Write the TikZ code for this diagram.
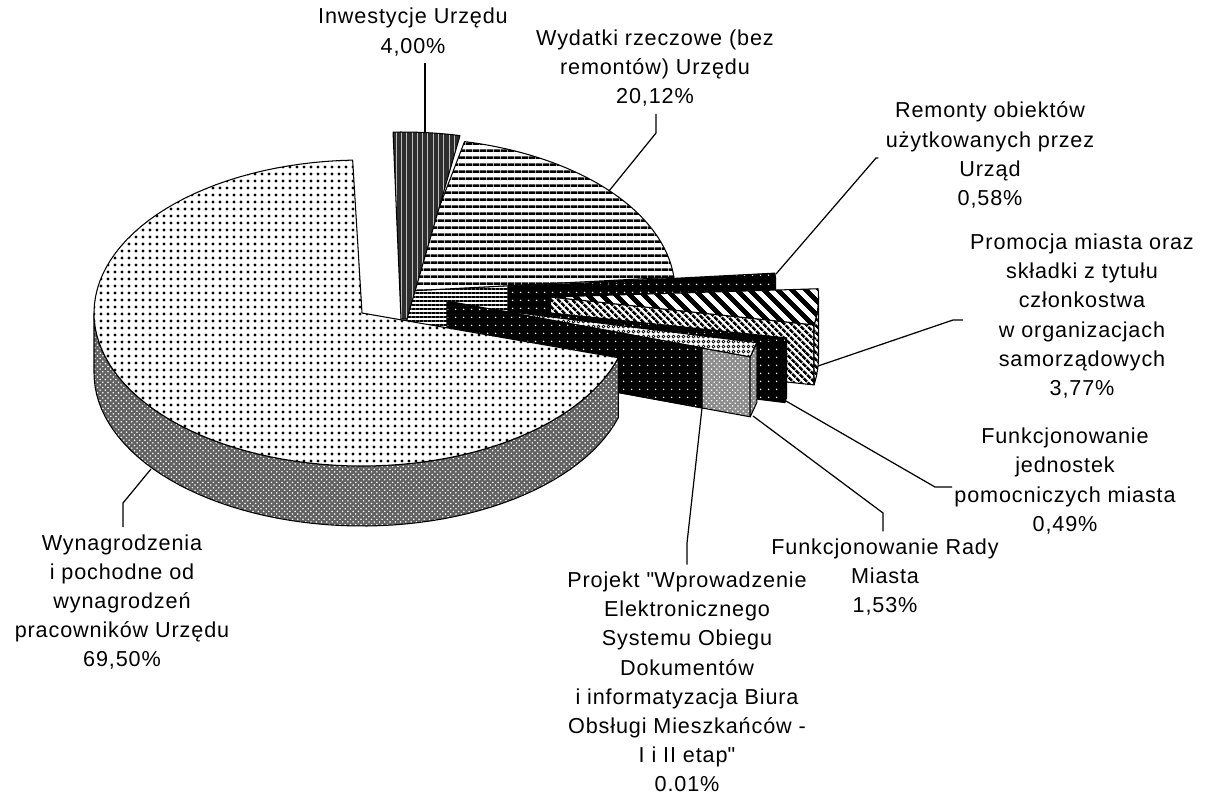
\documentclass[tikz,border=0pt]{standalone}
\usepackage{fontspec}
\setmainfont{Liberation Sans}[LetterSpace=4]
\usetikzlibrary{patterns,patterns.meta}

% Motifs
\tikzdeclarepattern{name=pointsNoirs, type=uncolored,
  bottom left={(0pt,0pt)}, top right={(3.7pt,3.7pt)}, tile size={(3.7pt,3.7pt)},
  code={\fill (1.85pt,1.85pt) circle (0.95pt);}}
\tikzdeclarepattern{name=pointsClairs, type=uncolored,
  bottom left={(0pt,0pt)}, top right={(4.6pt,4.6pt)}, tile size={(4.6pt,4.6pt)},
  code={\fill (2.3pt,2.3pt) circle (0.5pt);}}
\tikzdeclarepattern{name=lignesH, type=uncolored,
  bottom left={(0pt,0pt)}, top right={(4.1pt,4.1pt)}, tile size={(4.1pt,4.1pt)},
  code={\fill (0pt,0pt) rectangle (4.1pt,1.7pt);}}
\tikzdeclarepattern{name=lignesHfines, type=uncolored,
  bottom left={(0pt,0pt)}, top right={(2.4pt,2.4pt)}, tile size={(2.4pt,2.4pt)},
  code={\fill (0pt,0pt) rectangle (2.4pt,1.2pt);}}
\tikzdeclarepattern{name=hachGrosse, type=uncolored,
  bottom left={(0pt,0pt)}, top right={(5.6pt,5.6pt)}, tile size={(5.6pt,5.6pt)},
  tile transformation={rotate=-45},
  code={\fill (0pt,0pt) rectangle (5.6pt,2.8pt);}}
\tikzdeclarepattern{name=hachFine, type=uncolored,
  bottom left={(0pt,0pt)}, top right={(3pt,3pt)}, tile size={(3pt,3pt)},
  tile transformation={rotate=-45},
  code={\fill (0pt,0pt) rectangle (3pt,1.6pt);}}
\tikzdeclarepattern{name=anneaux, type=uncolored,
  bottom left={(0pt,0pt)}, top right={(2.8pt,2.8pt)}, tile size={(2.8pt,2.8pt)},
  code={\draw[line width=0.4pt] (1.4pt,1.4pt) circle (0.8pt);}}

\begin{document}
\begin{tikzpicture}[x=0.02cm, y=-0.02cm,
    contour/.style={draw=black, line width=0.6pt, line join=round},
    pointille/.style={contour, preaction={fill=white}, pattern=pointsNoirs},
    noirPoints/.style={contour, preaction={fill=black}, pattern=pointsClairs, pattern color=white},
    texGris/.style={contour, preaction={fill=black!62}, pattern=crosshatch dots, pattern color=white},
    gris/.style={contour, preaction={fill=black!45}, pattern=crosshatch dots, pattern color=white},
    inwest/.style={contour, preaction={fill=black!82}, pattern=vertical lines, pattern color=white!75!black},
    rayuresH/.style={contour, preaction={fill=white}, pattern=lignesH},
    rayuresHfines/.style={contour, preaction={fill=white}, pattern=lignesHfines},
    hachG/.style={contour, preaction={fill=white}, pattern=hachGrosse},
    hachF/.style={contour, preaction={fill=white}, pattern=hachFine},
    rond/.style={contour, preaction={fill=white}, pattern=anneaux},
    etiq/.style={align=center, inner sep=4pt, font=\fontsize{12.3}{16.6}\selectfont},
    lien/.style={line width=0.7pt}]
    \useasboundingbox (0,0) rectangle (1207,796);
    % Wydatki rzeczowe
    \draw[rayuresHfines] (407,291) -- (673.9,277.1) -- (673.9,337.1) -- (407,351) -- cycle;
    \draw[rayuresH] (407,291) -- plot[domain=77.6:5.2, samples=40] ({407+268*cos(\x)},{291-153*sin(\x)}) -- cycle;
    % Inwestycje
    \draw[inwest] plot[domain=92:77.6, samples=10] ({402.4+268*cos(\x)},{285-153*sin(\x)}) -- (407,319) -- (401,319) -- cycle;
    % Remonty
    \draw[noirPoints] (508,287) -- (775.6,278.7) -- (775.6,338.7) -- (508,347) -- cycle;
    \draw[noirPoints] (508,287) -- (774.9,273.1) -- (775.6,278.7) -- cycle;
    % Promocja
    \draw[hachF] (550.5,297) -- (814,324.9) -- (814,384.9) -- (550.5,357) -- cycle;
    \draw[hachF] plot[domain=0:-10.5, samples=8] ({550.5+268*cos(\x)},{297-153*sin(\x)})
        -- plot[domain=-10.5:0, samples=8] ({550.5+268*cos(\x)},{357-153*sin(\x)}) -- cycle;
    \draw[hachG] (550.5,297) -- plot[domain=3.1:-10.5, samples=10] ({550.5+268*cos(\x)},{297-153*sin(\x)}) -- cycle;
    % Jednostki pomocnicze
    \draw[noirPoints] (523,310) -- (784.8,342.6) -- (784.8,402.6) -- (523,370) -- cycle;
    \draw[noirPoints] (786.5,337.9) -- (784.8,342.6) -- (784.8,402.6) -- (786.5,397.9) -- cycle;
    \draw[noirPoints] (523,310) -- (786.5,337.9) -- (784.8,342.6) -- cycle;
    % Rada Miasta
    \draw[gris] (495,310) -- (750.2,356.8) -- (750.2,416.8) -- (495,370) -- cycle;
    \draw[gris] (756.8,342.6) -- (750.2,356.8) -- (750.2,416.8) -- (756.8,402.6) -- cycle;
    \draw[rond] (495,310) -- (756.8,342.6) -- (750.2,356.8) -- cycle;
    % Projekt
    \draw[noirPoints] (447,301) -- (702.2,347.8) -- (702.2,407.8) -- (447,361) -- cycle;
    % Wynagrodzenia
    \draw[texGris] plot[domain=180:343, samples=60] ({362+268*cos(\x)},{313-153*sin(\x)})
        -- plot[domain=343:180, samples=60] ({362+268*cos(\x)},{373-153*sin(\x)}) -- cycle;
    \draw[pointille] (362,313) -- plot[domain=92:343, samples=90] ({362+268*cos(\x)},{313-153*sin(\x)}) -- cycle;

    % Points d'attache
    \coordinate (cInv) at (425,133);
    \coordinate (cWyd) at (609,191);
    \coordinate (kWyd) at (656,133);
    \coordinate (cRem) at (776,274);
    \coordinate (kRem) at (876,158);
    \coordinate (cPro) at (818,366);
    \coordinate (kPro) at (953,320);
    \coordinate (cJed) at (786,401);
    \coordinate (kJed) at (935,487);
    \coordinate (kJed2) at (952,487);
    \coordinate (cRad) at (753,416);
    \coordinate (kRad) at (883,513);
    \coordinate (cPrj) at (702,408);
    \coordinate (kPrj) at (687,543);
    \coordinate (cWyn) at (151,469);
    \coordinate (kWyn) at (123,503);

    % Etiquettes
    \node[etiq] (inv) at (413,32) {Inwestycje Urzędu\\4,00\%};
    \node[etiq] (wyd) at (655,68) {Wydatki rzeczowe (bez\\remontów) Urzędu\\20,12\%};
    \node[etiq] (rem) at (990,155) {Remonty obiektów\\użytkowanych przez\\Urząd\\0,58\%};
    \node[etiq] (pro) at (1082,316) {Promocja miasta oraz\\składki z tytułu\\członkostwa\\w organizacjach\\samorządowych\\3,77\%};
    \node[etiq] (jed) at (1065,481) {Funkcjonowanie\\jednostek\\pomocniczych miasta\\0,49\%};
    \node[etiq] (rad) at (885,577) {Funkcjonowanie Rady\\Miasta\\1,53\%};
    \node[etiq] (prj) at (687,682) {Projekt \textquotedbl Wprowadzenie\\Elektronicznego\\Systemu Obiegu\\Dokumentów\\i informatyzacja Biura\\Obsługi Mieszkańców -\\I i II etap\textquotedbl\\0.01\%};
    \node[etiq] (wyn) at (122,602) {Wynagrodzenia\\i pochodne od\\wynagrodzeń\\pracowników Urzędu\\69,50\%};

    % Lignes de rappel
    \draw[lien] (inv.south -| cInv) -- (cInv);
    \draw[lien] (wyd.south -| kWyd) -- (kWyd) -- (cWyd);
    \draw[lien] (cRem) -- (kRem) -- (kRem -| rem.west);
    \draw[lien] (cPro) -- (kPro) -- (kPro -| pro.west);
    \draw[lien] (cJed) -- (kJed) -- (kJed2);
    \draw[lien] (cRad) -- (kRad) -- (kRad |- rad.north);
    \draw[lien] (cPrj) -- (kPrj) -- (kPrj |- prj.north);
    \draw[lien] (cWyn) -- (kWyn) -- (kWyn |- wyn.north);
\end{tikzpicture}
\end{document}
